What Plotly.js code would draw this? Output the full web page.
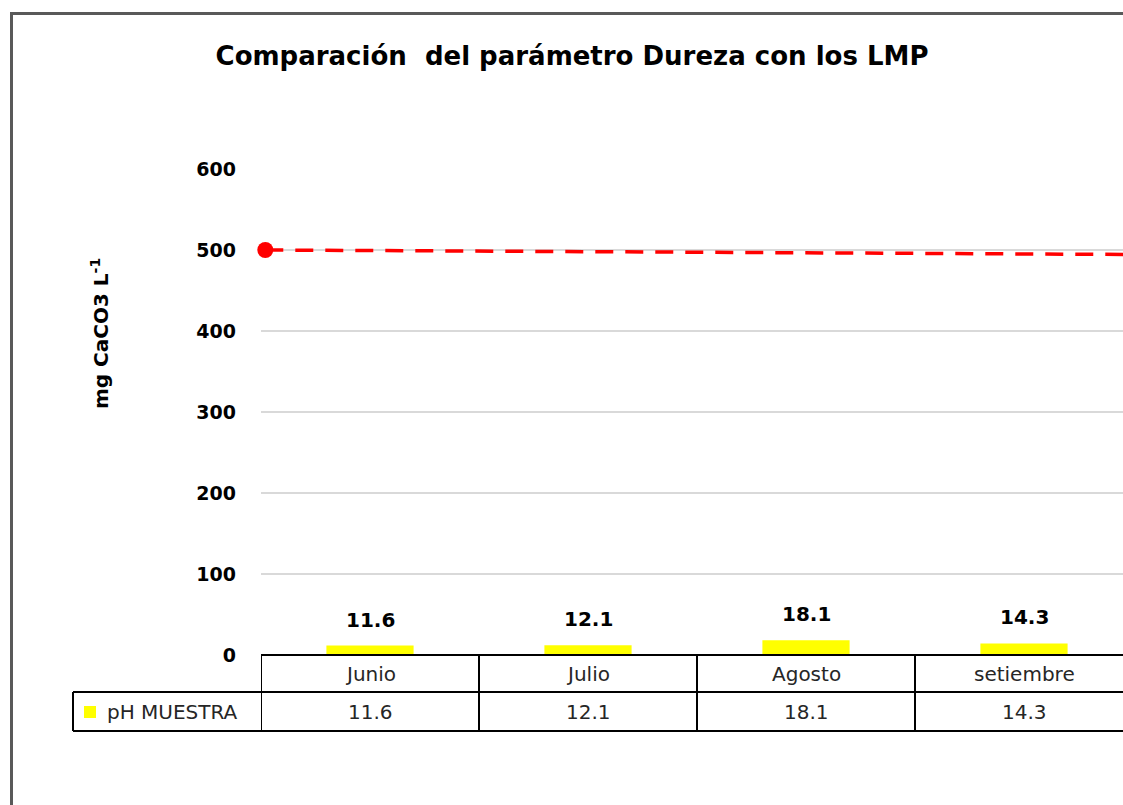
<!DOCTYPE html>
<html>
<head>
<meta charset="utf-8">
<script src="https://cdn.plot.ly/plotly-3.0.1.min.js"></script>
<style>
  html, body { margin: 0; padding: 0; background: #ffffff; }
  #chart { width: 1123px; height: 805px; }
</style>
</head>
<body>
<div id="chart"></div>
<script>
// ---- Data ----
var categories = ["Junio", "Julio", "Agosto", "setiembre"];
var muestraValues = [11.6, 12.1, 18.1, 14.3];
var muestraName = "pH MUESTRA";
var lmpPos = [0, 1];          // start and end of LMP line (relative position)
var lmpValues = [500, 494.5]; // LMP line values as drawn
var yTicks = [0, 100, 200, 300, 400, 500, 600];
var titleText = "Comparación  del parámetro Dureza con los LMP";
var yTitleText = "mg CaCO3 L<sup>-1</sup>";

// ---- Geometry helpers (pixel layout of the frame) ----
var W = 1123, H = 805;
var mL = 261, mR = 0, mT = 169, mB = 150;
var plotW = W - mL - mR, plotH = H - mT - mB;
function px(x) { return (x - mL) / plotW; }
function py(y) { return (H - mB - y) / plotH; }

var FONT = "DejaVu Sans";
var nCat = categories.length;
var xRange = [-0.5, -0.5 + plotW / 218];

var traces = [
  {
    type: "bar",
    x: categories.map(function (c, i) { return i; }),
    y: muestraValues,
    name: muestraName,
    marker: { color: "#FFFF00", line: { width: 0 } },
    width: 0.4,
    hoverinfo: "y",
    showlegend: false
  },
  {
    type: "scatter",
    mode: "lines+markers",
    x: lmpPos,
    y: lmpValues,
    xaxis: "x2",
    line: { color: "#FF0000", width: 3.5, dash: "18px,12px" },
    marker: { color: "#FF0000", size: [16, 0], opacity: 1, line: { width: 0 } },
    cliponaxis: false,
    showlegend: false,
    hoverinfo: "y"
  }
];

var shapes = [];
var annotations = [];

// Frame (gray border left and top)
shapes.push({ type: "line", xref: "paper", yref: "paper",
  x0: px(11.5), x1: px(11.5), y0: py(12), y1: py(H + 5),
  line: { color: "#595959", width: 3 } });
shapes.push({ type: "line", xref: "paper", yref: "paper",
  x0: px(10), x1: px(W + 5), y0: py(13.5), y1: py(13.5),
  line: { color: "#595959", width: 3 } });

// Data table
var lineStyle = { color: "#000000", width: 2 };
var rowTop = py(655), rowMid = py(692), rowBot = py(731);
var legLeft = px(73);
shapes.push({ type: "line", xref: "paper", yref: "paper", x0: 0, x1: 1.1, y0: rowTop, y1: rowTop, line: lineStyle });
shapes.push({ type: "line", xref: "paper", yref: "paper", x0: legLeft, x1: 1.1, y0: rowMid, y1: rowMid, line: lineStyle });
shapes.push({ type: "line", xref: "paper", yref: "paper", x0: legLeft, x1: 1.1, y0: rowBot, y1: rowBot, line: lineStyle });
shapes.push({ type: "line", xref: "paper", yref: "paper", x0: legLeft, x1: legLeft, y0: rowMid, y1: rowBot, line: lineStyle });
for (var i = 0; i <= nCat; i++) {
  shapes.push({ type: "line", xref: "x", yref: "paper", x0: i - 0.5, x1: i - 0.5, y0: rowTop, y1: rowBot, line: lineStyle });
}
// legend key
shapes.push({ type: "rect", xref: "paper", yref: "paper",
  x0: px(84), x1: px(96), y0: py(718), y1: py(706),
  fillcolor: "#FFFF00", line: { width: 0 } });
annotations.push({ xref: "paper", yref: "paper", x: px(105), y: (rowMid + rowBot) / 2,
  xanchor: "left", yanchor: "middle", showarrow: false, text: muestraName,
  font: { family: FONT, size: 20, color: "#262626" } });

// Y axis title (rotated)
annotations.push({ xref: "paper", yref: "paper", x: px(100), y: py(334),
  xanchor: "center", yanchor: "middle", showarrow: false, textangle: -90,
  text: "<b>" + yTitleText + "</b>",
  font: { family: FONT, size: 20, color: "#000000" } });

categories.forEach(function (c, i) {
  annotations.push({ xref: "x", yref: "paper", x: i, y: (rowTop + rowMid) / 2,
    xanchor: "center", yanchor: "middle", showarrow: false, text: c,
    font: { family: FONT, size: 20, color: "#262626" } });
  annotations.push({ xref: "x", yref: "paper", x: i, y: (rowMid + rowBot) / 2,
    xanchor: "center", yanchor: "middle", showarrow: false, text: String(muestraValues[i]),
    font: { family: FONT, size: 20, color: "#262626" } });
  // bold data label above bar
  annotations.push({ xref: "x", yref: "y", x: i, y: muestraValues[i],
    xanchor: "center", yanchor: "bottom", yshift: 12, showarrow: false,
    text: "<b>" + muestraValues[i] + "</b>",
    font: { family: FONT, size: 20, color: "#000000" } });
});

var layout = {
  width: W, height: H,
  margin: { l: mL, r: mR, t: mT, b: mB, pad: 0 },
  paper_bgcolor: "#ffffff",
  plot_bgcolor: "#ffffff",
  title: {
    text: "<b>" + titleText + "</b>",
    font: { family: FONT, size: 26, color: "#000000" },
    x: 572 / W, xanchor: "center", xref: "container",
    y: 1 - 56 / H, yanchor: "middle", yref: "container"
  },
  xaxis: {
    range: xRange, showgrid: false, zeroline: false, showline: false,
    showticklabels: false, ticks: "", fixedrange: true
  },
  xaxis2: {
    overlaying: "x", range: [-0.005, 1], visible: false, fixedrange: true
  },
  yaxis: {
    range: [0, 600], tickvals: yTicks, ticktext: yTicks.map(function (v) { return "<b>" + v + "</b>"; }),
    showgrid: true, gridcolor: "#D9D9D9", gridwidth: 2,
    zeroline: false, showline: false, ticks: "",
    ticklabelstandoff: 24,
    tickfont: { family: FONT, size: 19, color: "#000000" },
    fixedrange: true
  },
  bargap: 0.6,
  shapes: shapes,
  annotations: annotations,
  showlegend: false
};

Plotly.newPlot("chart", traces, layout, { displayModeBar: false, staticPlot: true });
</script>
</body>
</html>
